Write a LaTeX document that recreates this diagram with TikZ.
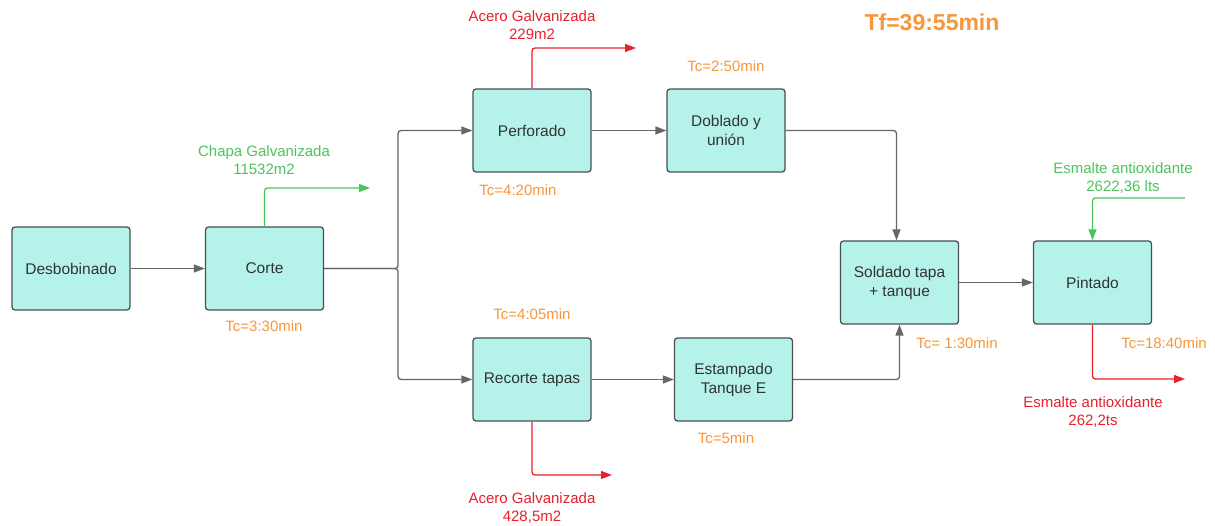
\documentclass[tikz,border=0pt]{standalone}
\usepackage{fontspec}
\setmainfont{Liberation Sans}
\usetikzlibrary{arrows.meta}
\definecolor{boxfill}{HTML}{B5F3EA}
\definecolor{boxline}{HTML}{4A4F52}
\definecolor{tcorange}{HTML}{F7963A}
\definecolor{ingreen}{HTML}{4CC35B}
\definecolor{outred}{HTML}{E8202A}
\definecolor{flowgrey}{HTML}{666666}

\begin{document}
\begin{tikzpicture}[x=1pt, y=-1pt,
  proc/.style={draw=boxline, line width=1.3pt, fill=boxfill, rounded corners=3pt, minimum width=118pt, minimum height=83pt, align=center, text=black!80, font=\fontsize{15.5}{19}\selectfont},
  flow/.style={draw=flowgrey, line width=1.3pt, rounded corners=3pt, -{Triangle[length=11pt,width=8pt]}},
  inflow/.style={flow, draw=ingreen},
  outflow/.style={flow, draw=outred},
  tclabel/.style={text=tcorange, font=\fontsize{15}{18}\selectfont},
  matlabel/.style={align=center, font=\fontsize{15}{17.5}\selectfont}]
			\useasboundingbox (0,0) rectangle (1215,526);
			% process boxes
			\node[proc] (desbob) at (71,268.5) {Desbobinado};
			\node[proc] (corte) at (264.5,268.5) {Corte};
			\node[proc] (perf) at (532,130.5) {Perforado};
			\node[proc] (doblado) at (726,130.5) {Doblado y\\uni\'on};
			\node[proc] (recorte) at (532,379.5) {Recorte tapas};
			\node[proc] (estamp) at (733.5,379.5) {Estampado\\Tanque E};
			\node[proc] (soldado) at (899.5,282.5) {Soldado tapa\\+ tanque};
			\node[proc] (pintado) at (1092.5,282.5) {Pintado};
			% main flow
			\coordinate (fork) at (398,268.5);
			\draw[flow] (desbob) -- (corte);
			\draw[flow] (corte.east) -- (fork) |- (perf.west);
			\draw[flow] (corte.east) -- (fork) |- (recorte.west);
			\draw[flow] (perf) -- (doblado);
			\draw[flow] (recorte) -- (estamp);
			\draw[flow] (doblado.east) -| ([xshift=-3pt]soldado.north);
			\draw[flow] (estamp.east) -| (soldado.south);
			\draw[flow] (soldado) -- (pintado);
			% materials in and out
			\coordinate (chapaend) at (370,188);
			\coordinate (acero1end) at (636,48);
			\coordinate (acero2end) at (612,475);
			\coordinate (esmaltein) at (1185,198);
			\coordinate (esmalteend) at (1185,379);
			\draw[inflow] (corte.north) |- (chapaend);
			\draw[outflow] (perf.north) |- (acero1end);
			\draw[outflow] (recorte.south) |- (acero2end);
			\draw[inflow] (esmaltein) -| (pintado.north);
			\draw[outflow] (pintado.south) |- (esmalteend);
			\node[matlabel, text=ingreen] (chapa) at (264,160) {Chapa Galvanizada\\11532m2};
			\node[matlabel, text=outred] (acero1) at (532,25) {Acero Galvanizada\\229m2};
			\node[matlabel, text=outred] (acero2) at (532,508) {Acero Galvanizada\\428,5m2};
			\node[matlabel, text=ingreen] (esmalte1) at (1123,178) {Esmalte antioxidante\\2622,36 lts};
			\node[matlabel, text=outred] (esmalte2) at (1093,412) {Esmalte antioxidante\\262,2ts};
			% cycle times
			\node[tclabel] (tccorte) at (264,326) {Tc=3:30min};
			\node[tclabel] (tcperf) at (518,190) {Tc=4:20min};
			\node[tclabel] (tcdoblado) at (726,66) {Tc=2:50min};
			\node[tclabel] (tcrecorte) at (532,314) {Tc=4:05min};
			\node[tclabel] (tcestamp) at (726,438) {Tc=5min};
			\node[tclabel] (tcsoldado) at (957,343) {Tc= 1:30min};
			\node[tclabel] (tcpintado) at (1164,343) {Tc=18:40min};
			\node[text=tcorange, font=\fontsize{23}{27}\selectfont\bfseries] (tf) at (932,22) {Tf=39:55min};
			\end{tikzpicture}
\end{document}
